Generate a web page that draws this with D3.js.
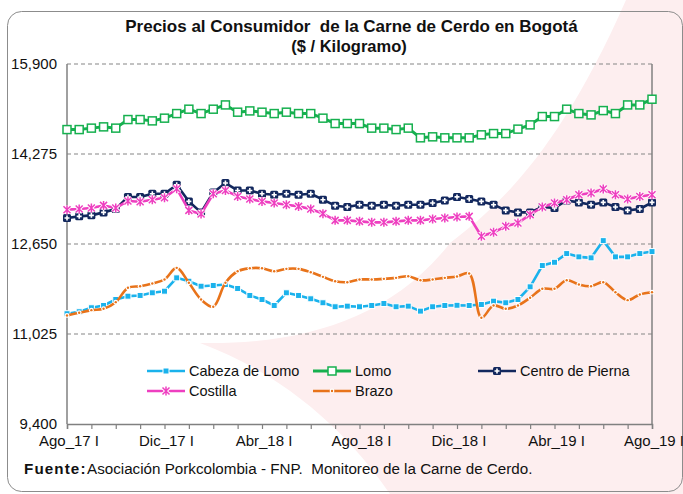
<!DOCTYPE html>
<html>
<head>
<meta charset="utf-8">
<script src="https://cdn.jsdelivr.net/npm/d3@7"></script>
<style>
  html, body { margin: 0; padding: 0; background: #ffffff; }
  svg { display: block; font-family: "Liberation Sans", Arial, sans-serif; }
</style>
</head>
<body>
<svg id="chart" width="683" height="494"></svg>
<script>
// ---------- DATA ----------
const periods = [
  "Ago_17 I","Ago_17 II","Sep_17 I","Sep_17 II","Oct_17 I","Oct_17 II","Nov_17 I","Nov_17 II",
  "Dic_17 I","Dic_17 II","Ene_18 I","Ene_18 II","Feb_18 I","Feb_18 II","Mar_18 I","Mar_18 II",
  "Abr_18 I","Abr_18 II","May_18 I","May_18 II","Jun_18 I","Jun_18 II","Jul_18 I","Jul_18 II",
  "Ago_18 I","Ago_18 II","Sep_18 I","Sep_18 II","Oct_18 I","Oct_18 II","Nov_18 I","Nov_18 II",
  "Dic_18 I","Dic_18 II","Ene_19 I","Ene_19 II","Feb_19 I","Feb_19 II","Mar_19 I","Mar_19 II",
  "Abr_19 I","Abr_19 II","May_19 I","May_19 II","Jun_19 I","Jun_19 II","Jul_19 I","Jul_19 II",
  "Ago_19 I"
];
const tickLabels = ["Ago_17 I","Dic_17 I","Abr_18 I","Ago_18 I","Dic_18 I","Abr_19 I","Ago_19 I"];
const yTicks = [9400, 11025, 12650, 14275, 15900];

const cabezaDeLomo = [11391,11427,11499,11540,11648,11708,11721,11769,11798,12039,11978,11888,11901,11919,11847,11721,11648,11540,11769,11721,11661,11589,11517,11528,11517,11540,11576,11517,11528,11438,11517,11540,11544,11540,11558,11618,11589,11648,11877,12261,12320,12477,12418,12400,12711,12418,12418,12477,12513];
const lomo = [14716,14716,14742,14765,14742,14897,14897,14873,14922,15005,15084,15005,15084,15161,15030,15053,15030,15005,15030,15005,15005,14922,14825,14825,14825,14742,14742,14716,14742,14567,14585,14567,14567,14567,14621,14644,14644,14724,14801,14951,14951,15084,15005,14981,15059,15005,15161,15161,15264];
const centroDePierna = [13120,13149,13167,13221,13282,13499,13499,13558,13558,13720,13419,13221,13581,13751,13617,13617,13558,13540,13558,13540,13558,13450,13342,13318,13360,13342,13360,13342,13360,13360,13390,13437,13500,13463,13419,13360,13257,13221,13221,13318,13300,13437,13401,13360,13401,13318,13257,13282,13401];
const costilla = [13270,13282,13300,13347,13300,13427,13414,13450,13486,13648,13257,13192,13558,13617,13509,13463,13419,13390,13360,13329,13282,13198,13077,13077,13059,13041,13041,13059,13077,13077,13102,13120,13138,13149,12789,12861,12969,13030,13180,13318,13390,13450,13540,13571,13643,13540,13463,13509,13540];
const brazo = [11360,11409,11456,11481,11600,11859,11888,11937,12009,12219,11949,11648,11517,11949,12158,12212,12212,12158,12201,12201,12140,12057,11978,11960,12009,12009,12021,12039,12068,11996,12009,12039,12063,12117,11319,11540,11481,11540,11679,11841,11841,11996,11919,11888,11960,11780,11636,11739,11780];

const seriesNames = ["Cabeza de Lomo","Lomo","Centro de Pierna","Costilla","Brazo"];
const seriesValues = [cabezaDeLomo, lomo, centroDePierna, costilla, brazo];

// ---------- STYLE ----------
const colors = {
  "Cabeza de Lomo": "#1ab2ec",
  "Lomo": "#16b04f",
  "Centro de Pierna": "#13285e",
  "Costilla": "#ee3fc0",
  "Brazo": "#e8731a"
};
const markerType = {
  "Cabeza de Lomo": "fsquare",
  "Lomo": "osquare",
  "Centro de Pierna": "plus",
  "Costilla": "star",
  "Brazo": "dot"
};

const svg = d3.select("#chart");

// watermark (decorative background)
svg.append("path")
  .attr("d", "M626,0 L700,0 L700,494 L390,494 C360,450 300,380 200,343 C300,345 390,320 450,243 C500,205 560,150 626,0 Z")
  .attr("fill", "#fdeeef");

// outer rounded frame
svg.append("rect")
  .attr("x", 7.5).attr("y", 11.5).attr("width", 675).attr("height", 480)
  .attr("rx", 14).attr("ry", 14)
  .attr("fill", "none").attr("stroke", "#8c8c8c").attr("stroke-width", 1);

const pLeft = 67, pRight = 652, pTop = 64, pBottom = 424;
const x = d3.scaleLinear().domain([0, periods.length - 1]).range([pLeft, pRight]);
const y = d3.scaleLinear().domain([9400, 15900]).range([pBottom, pTop]);

// title
svg.append("text")
  .attr("x", 351.5).attr("y", 32)
  .attr("text-anchor", "middle")
  .attr("font-weight", "bold").attr("font-size", 17)
  .attr("fill", "#111")
  .style("white-space", "pre")
  .text("Precios al Consumidor  de la Carne de Cerdo en Bogotá");
svg.append("text")
  .attr("x", 349).attr("y", 52)
  .attr("text-anchor", "middle")
  .attr("font-weight", "bold").attr("font-size", 16.5)
  .attr("fill", "#111")
  .text("($ / Kilogramo)");

// gridlines
svg.append("g").selectAll("line")
  .data(yTicks.filter(d => d !== 9400))
  .join("line")
  .attr("x1", pLeft).attr("x2", pRight)
  .attr("y1", d => y(d)).attr("y2", d => y(d))
  .attr("stroke", "#858585").attr("stroke-width", 1.2)
  .attr("stroke-dasharray", "4,3");

// y labels
svg.append("g").selectAll("text")
  .data(yTicks)
  .join("text")
  .attr("x", 57).attr("y", d => y(d) + 5)
  .attr("text-anchor", "end")
  .attr("font-size", 15).attr("fill", "#111")
  .text(d => d3.format(",")(d));

// x axis
const monthTicks = d3.range(0, periods.length, 2);
const xAxis = d3.axisBottom(x)
  .tickValues(monthTicks)
  .tickSize(5)
  .tickFormat("");
const gx = svg.append("g").attr("transform", `translate(0,${pBottom})`).call(xAxis);
gx.select(".domain").attr("stroke", "#808080").attr("stroke-width", 1.5);
gx.selectAll(".tick line").attr("stroke", "#808080").attr("stroke-width", 1.2);

svg.append("g").selectAll("text")
  .data(tickLabels)
  .join("text")
  .attr("x", d => x(periods.indexOf(d)) + 2)
  .attr("y", 446)
  .attr("text-anchor", "middle")
  .attr("font-size", 15).attr("fill", "#111")
  .text(d => d);

// y axis line and right border
svg.append("line").attr("x1", pLeft).attr("x2", pLeft).attr("y1", pTop).attr("y2", pBottom)
  .attr("stroke", "#808080").attr("stroke-width", 1.5);
svg.append("line").attr("x1", pRight).attr("x2", pRight).attr("y1", pTop).attr("y2", pBottom)
  .attr("stroke", "#808080").attr("stroke-width", 1.5);

// marker drawer
function drawMarker(g, type, color, cx, cy) {
  if (type === "fsquare") {
    g.append("rect").attr("x", cx - 3).attr("y", cy - 3).attr("width", 6).attr("height", 6)
      .attr("fill", color).attr("stroke", "#fff").attr("stroke-width", 1);
  } else if (type === "osquare") {
    g.append("rect").attr("x", cx - 4).attr("y", cy - 4).attr("width", 8).attr("height", 8)
      .attr("fill", "#fff").attr("stroke", color).attr("stroke-width", 1.5);
  } else if (type === "plus") {
    g.append("rect").attr("x", cx - 4).attr("y", cy - 4).attr("width", 8).attr("height", 8)
      .attr("rx", 1.5).attr("fill", color);
    g.append("path").attr("d", `M${cx - 2.5},${cy}H${cx + 2.5}M${cx},${cy - 2.5}V${cy + 2.5}`)
      .attr("stroke", "#fff").attr("stroke-width", 1.6);
  } else if (type === "star") {
    const p = `M${cx - 3.5},${cy - 3.5}L${cx + 3.5},${cy + 3.5}M${cx + 3.5},${cy - 3.5}L${cx - 3.5},${cy + 3.5}M${cx},${cy - 4.5}V${cy + 4.5}`;
    g.append("path").attr("d", p).attr("stroke", "#fff").attr("stroke-width", 3.2);
    g.append("path").attr("d", p).attr("stroke", color).attr("stroke-width", 1.5);
  } else if (type === "dot") {
    g.append("circle").attr("cx", cx).attr("cy", cy).attr("r", 2.4).attr("fill", "#fff");
    g.append("circle").attr("cx", cx).attr("cy", cy).attr("r", 1.2).attr("fill", color);
  }
}

// series
seriesNames.forEach((name, si) => {
  const vals = seriesValues[si];
  const color = colors[name];
  const g = svg.append("g");
  const line = d3.line()
    .x((d, i) => x(i))
    .y(d => y(d))
    .curve(name === "Brazo" ? d3.curveCatmullRom.alpha(0.5) : d3.curveLinear);
  g.append("path").datum(vals)
    .attr("d", line)
    .attr("fill", "none")
    .attr("stroke", color)
    .attr("stroke-width", name === "Lomo" ? 3 : 2.6)
    .attr("stroke-linejoin", "round");
  vals.forEach((v, i) => drawMarker(g, markerType[name], color, x(i), y(v)));
});

// legend
const legendPos = [
  { name: "Cabeza de Lomo", x: 147, y: 371 },
  { name: "Lomo", x: 313, y: 371 },
  { name: "Centro de Pierna", x: 478, y: 371 },
  { name: "Costilla", x: 147, y: 391 },
  { name: "Brazo", x: 313, y: 391 }
];
legendPos.forEach(l => {
  const g = svg.append("g");
  const c = colors[l.name];
  g.append("line").attr("x1", l.x).attr("x2", l.x + 38).attr("y1", l.y).attr("y2", l.y)
    .attr("stroke", c).attr("stroke-width", l.name === "Lomo" ? 3 : 2.6);
  drawMarker(g, markerType[l.name], c, l.x + 19, l.y);
  g.append("text").attr("x", l.x + 42).attr("y", l.y + 5)
    .attr("font-size", 14.5).attr("fill", "#111").text(l.name);
});

// source
const src = svg.append("text").attr("x", 24).attr("y", 474).attr("font-size", 15.2).attr("fill", "#111");
src.append("tspan").attr("font-weight", "bold").attr("letter-spacing", 1.1).text("Fuente:");
src.append("tspan").attr("x", 87).style("white-space", "pre")
  .text("Asociación Porkcolombia - FNP.  Monitoreo de la Carne de Cerdo.");
</script>
</body>
</html>
